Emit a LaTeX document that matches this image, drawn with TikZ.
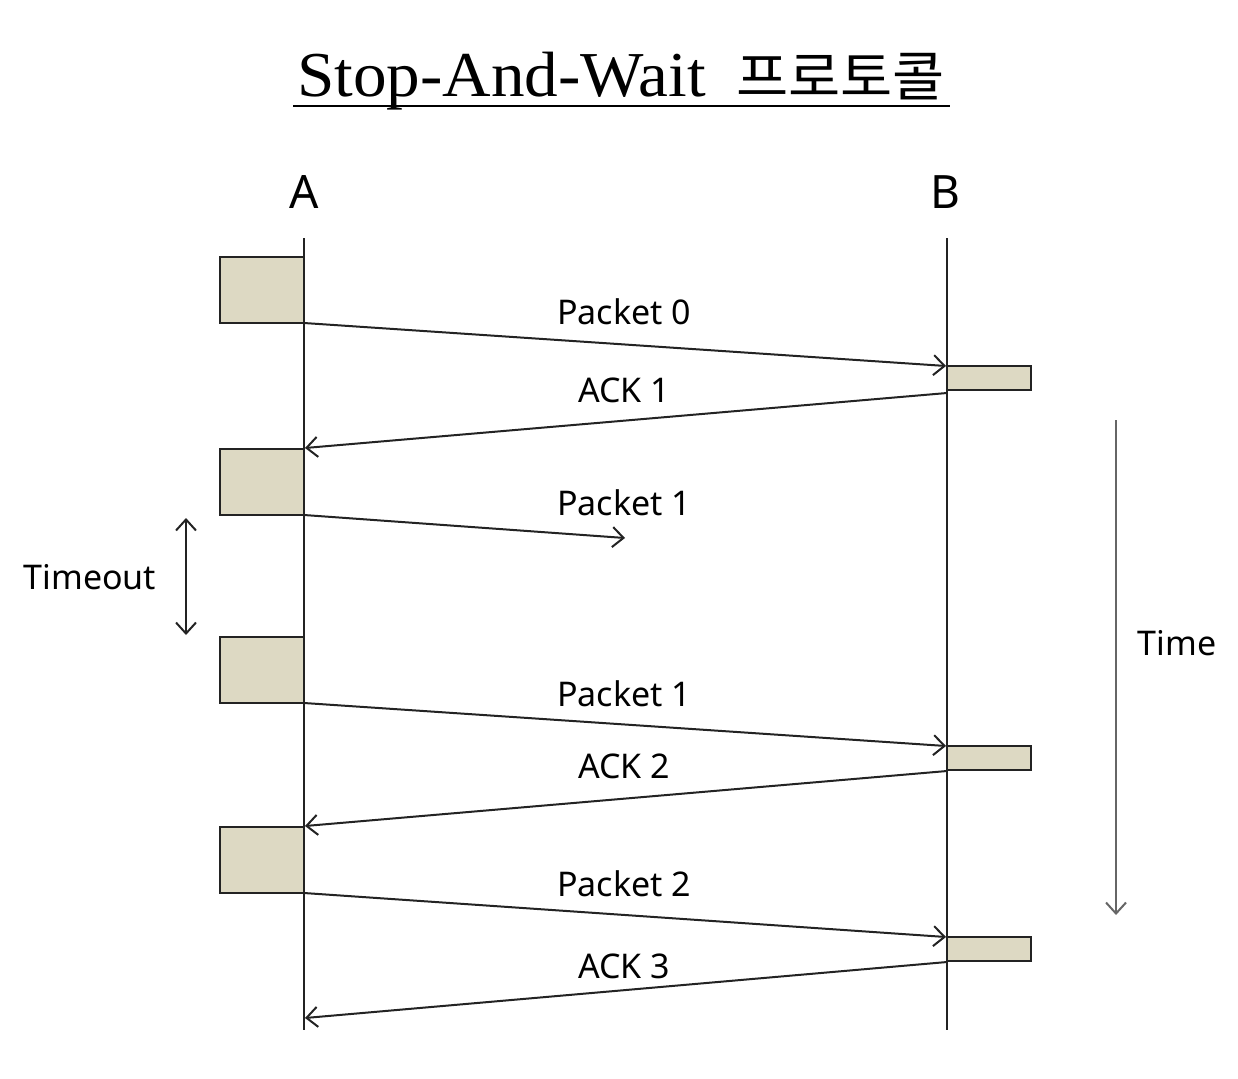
\documentclass[tikz,border=0pt]{standalone}
\usepackage{fontspec}
\setmainfont{Liberation Serif}
\newfontfamily\labelfont{Noto Sans}
\newfontfamily\kofont{Noto Sans CJK KR}
\usetikzlibrary{arrows.meta}
\definecolor{boxfill}{RGB}{221,217,195}
\definecolor{linegray}{RGB}{35,35,35}
\tikzset{
  lifeline/.style={draw=linegray, line width=2.1pt},
  sendbox/.style={draw=linegray, line width=2.3pt, fill=boxfill},
  barb/.tip={Straight Barb[length=11pt,width=20pt,line width=2pt]},
  msg/.style={draw=linegray, line width=2pt, -barb},
  msglabel/.style={font=\labelfont\fontsize{34}{40}\selectfont, text=black, inner sep=0pt},
  endlabel/.style={font=\labelfont\fontsize{46}{54}\selectfont, inner sep=0pt},
}
\begin{document}
\begin{tikzpicture}[x=1pt,y=-1pt]
\useasboundingbox (0,0) rectangle (1238,1078);
% title
\node[inner sep=0pt, anchor=base, xscale=1.05] (title) at (621,97) {\fontsize{64}{74}\selectfont Stop-And-Wait\hspace{0.45em}{\kofont\fontsize{54}{62}\selectfont 프로토콜}};
\draw[line width=2.2pt] (293,106) -- (950,106);
% endpoints
\node[endlabel] (A) at (304,192) {A};
\node[endlabel] (B) at (945,192) {B};
\coordinate (Atop) at (304,238);
\coordinate (Abot) at (304,1030);
\coordinate (Btop) at (947,238);
\coordinate (Bbot) at (947,1030);
% boxes at A
\draw[sendbox] (220,257) rectangle (304,323);
\draw[sendbox] (220,449) rectangle (304,515);
\draw[sendbox] (220,637) rectangle (304,703);
\draw[sendbox] (220,827) rectangle (304,893);
% boxes at B
\draw[sendbox] (947,366) rectangle (1031,390);
\draw[sendbox] (947,746) rectangle (1031,770);
\draw[sendbox] (947,937) rectangle (1031,961);
% lifelines
\draw[lifeline] (Atop) -- (Abot);
\draw[lifeline] (Btop) -- (Bbot);
% message coordinates
\coordinate (p0s) at (304,323); \coordinate (p0e) at (946,366);
\coordinate (a1s) at (947,393); \coordinate (a1e) at (305,448);
\coordinate (p1s) at (304,515); \coordinate (p1e) at (625,538);
\coordinate (q1s) at (304,703); \coordinate (q1e) at (946,746);
\coordinate (a2s) at (947,771); \coordinate (a2e) at (305,826);
\coordinate (p2s) at (304,893); \coordinate (p2e) at (946,937);
\coordinate (a3s) at (947,962); \coordinate (a3e) at (305,1018);
\draw[msg] (p0s) -- (p0e);
\draw[msg] (a1s) -- (a1e);
\draw[msg] (p1s) -- (p1e);
\draw[msg] (q1s) -- (q1e);
\draw[msg] (a2s) -- (a2e);
\draw[msg] (p2s) -- (p2e);
\draw[msg] (a3s) -- (a3e);
% labels
\node[msglabel] (lp0) at (624,312) {Packet 0};
\node[msglabel] (la1) at (624,390) {ACK 1};
\node[msglabel] (lp1) at (624,503) {Packet 1};
\node[msglabel] (lq1) at (624,694) {Packet 1};
\node[msglabel] (la2) at (624,766) {ACK 2};
\node[msglabel] (lp2) at (624,884) {Packet 2};
\node[msglabel] (la3) at (624,966) {ACK 3};
% timeout
\coordinate (t1) at (186,518);
\coordinate (t2) at (186,635);
\draw[linegray, line width=2pt, barb-barb] (t1) -- (t2);
\node[msglabel] (tout) at (90,577) {Timeout};
% time
\coordinate (ti1) at (1116,420);
\coordinate (ti2) at (1116,915);
\draw[draw=gray!80!black, line width=2.2pt, -barb] (ti1) -- (ti2);
\node[msglabel] (time) at (1177,643) {Time};
\end{tikzpicture}
\end{document}
